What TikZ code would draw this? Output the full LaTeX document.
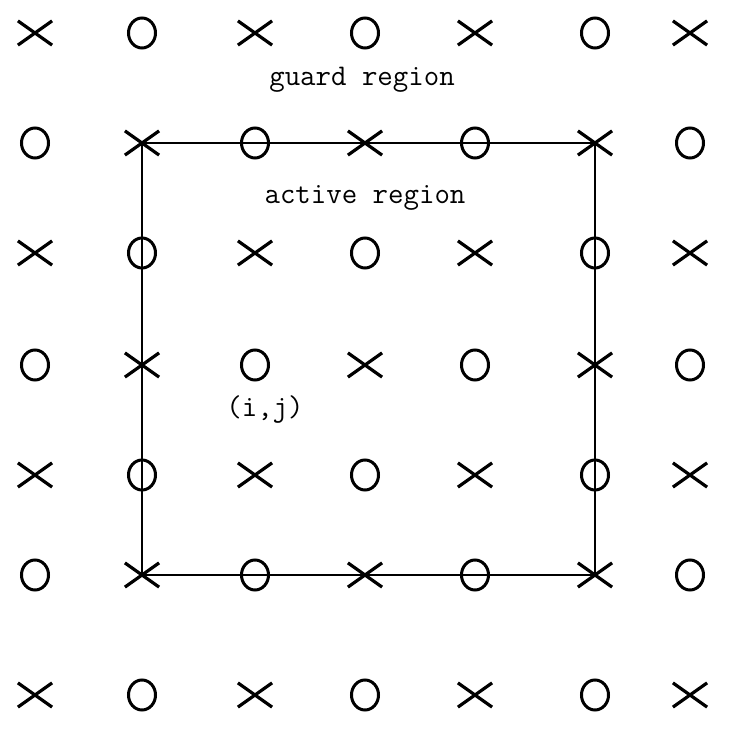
\documentclass[tikz,border=0pt]{standalone}
\usetikzlibrary{shapes.misc,shapes.geometric}
\tikzset{
  xmark/.style={cross out,draw,line width=1.6pt,minimum width=15.5pt,
                minimum height=10.5pt,inner sep=0pt},
  omark/.style={ellipse,draw,line width=1.5pt,minimum width=13.5pt,
                minimum height=15pt,inner sep=0pt},
  lbl/.style={font=\fontsize{15}{18}\selectfont\ttfamily}
}
\begin{document}
\begin{tikzpicture}[x=0.5pt,y=-0.5pt]
  \useasboundingbox (0,0) rectangle (734,732);

  % marks: x where row+col is even, o elsewhere
  \foreach \ypos [count=\r from 0] in {33,143,253,365,475,575,695}
    \foreach \xpos [count=\c from 0] in {35,142,255,365,475,595,690}{
      \pgfmathtruncatemacro\oddsum{mod(\r+\c,2)}
      \ifnum\oddsum=0
        \node[xmark] (m-\r-\c) at (\xpos,\ypos) {};
      \else
        \node[omark] (m-\r-\c) at (\xpos,\ypos) {};
      \fi
    }

  % boundary of the active region
  \draw[line width=1.1pt] (m-1-1.center) -- (m-1-5.center) -- (m-5-5.center)
    -- (m-5-1.center) -- cycle;

  \node[lbl] (guard) at (362,80) {guard region};
  \node[lbl] (active) at (365,198) {active region};
  \node[lbl] (ij) at (265,410) {(i,j)};
\end{tikzpicture}
\end{document}
